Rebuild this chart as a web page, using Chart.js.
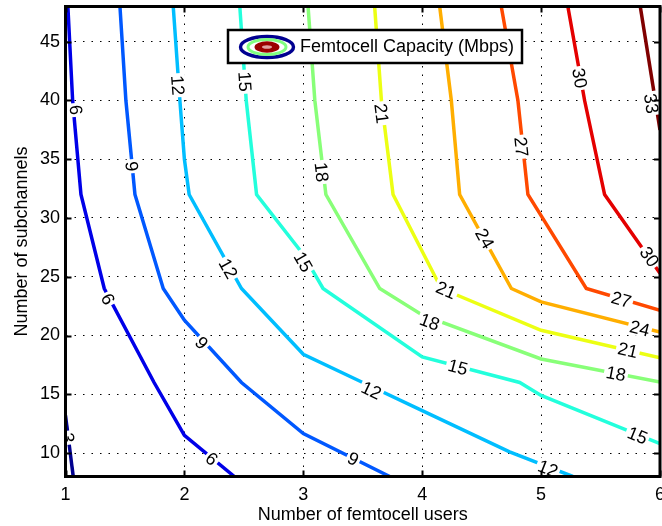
<!DOCTYPE html>
<html><head><meta charset="utf-8">
<script src="https://cdn.jsdelivr.net/npm/chart.js@4/dist/chart.umd.min.js"></script>
<style>html,body{margin:0;padding:0;background:#fff;overflow:hidden}</style>
</head><body>
<canvas id="c" width="662" height="526" style="display:block;width:662px;height:526px"></canvas>
<script>
// ---- data ----
const xTicks = [1, 2, 3, 4, 5, 6];
const yTicks = [10, 15, 20, 25, 30, 35, 40, 45];
const levels = [3, 6, 9, 12, 15, 18, 21, 24, 27, 30, 33];

// contour polylines: [femtocell users, subchannels]
const c03 = [[1.0, 13.2], [1.065, 8]];
const c06 = [[1.02, 48], [1.06, 40], [1.13, 32], [1.326, 24], [1.745, 16], [2.0, 11.5], [2.42, 8]];
const c09 = [[1.458, 48], [1.508, 40], [1.584, 32], [1.822, 24], [2.0, 21.3], [2.48, 16], [3.0, 11.65], [3.727, 8]];
const c12 = [[1.906, 48], [1.962, 40], [2.0, 35], [2.04, 32], [2.48, 24], [3.0, 18.4], [3.5, 16], [4.0, 13.6], [4.735, 10.1], [5.267, 8]];
const c15 = [[2.466, 48], [2.52, 40], [2.607, 32], [3.0, 26.9], [3.166, 24], [4.0, 18.17], [4.82, 16], [5.0, 14.9], [6.0, 10.8]];
const c18 = [[3.04, 48], [3.097, 40], [3.19, 32], [3.643, 24], [4.0, 21.75], [5.0, 18.0], [6.0, 16.04]];
const c21 = [[3.60, 48], [3.657, 40], [3.755, 32], [4.16, 24], [5.0, 20.44], [6.0, 18.1]];
const c24 = [[4.147, 48], [4.245, 40], [4.315, 32], [4.75, 24], [5.0, 22.86], [6.0, 20.3]];
const c27 = [[4.665, 48], [4.805, 40], [4.889, 32], [5.0, 30.2], [5.38, 24], [6.0, 22.15]];
const c30 = [[5.225, 48], [5.366, 40], [5.534, 32], [6.0, 25.3]];
const c33 = [[5.834, 48], [6.0, 37.5]];

// inline label anchor points
const lab03 = [[1.02, 11.3]];
const lab06 = [[1.088, 39.2], [1.357, 23.1], [2.23, 9.5]];
const lab09 = [[1.556, 34.4], [2.145, 19.36], [3.42, 9.5]];
const lab12 = [[1.943, 41.3], [2.368, 25.7], [3.573, 15.33], [5.057, 8.67]];
const lab15 = [[2.508, 41.6], [2.998, 26.26], [4.30, 17.3], [5.81, 11.5]];
const lab18 = [[3.153, 33.9], [4.063, 21.15], [5.63, 16.75]];
const lab21 = [[3.657, 38.9], [4.2, 23.86], [5.73, 18.74]];
const lab24 = [[4.525, 28.25], [5.83, 20.6]];
const lab27 = [[4.833, 36.06], [5.674, 23.06]];
const lab30 = [[5.324, 41.9], [5.91, 26.7]];
const lab33 = [[5.926, 39.75]];

const series = [c03, c06, c09, c12, c15, c18, c21, c24, c27, c30, c33];
const labelSets = [lab03, lab06, lab09, lab12, lab15, lab18, lab21, lab24, lab27, lab30, lab33];
const legendText = 'Femtocell Capacity (Mbps)';

// ---- styles ----
const jetColors = ['#00008F', '#0000E8', '#0058FF', '#00BEFF', '#23FFDC', '#88FF78', '#ECFF13', '#FFAE00', '#FF4900', '#E40000', '#800000'];
const FONT = '"Liberation Sans", Arial, Helvetica, sans-serif';

const contourLabels = {
  id: 'contourLabels',
  afterDatasetsDraw(chart) {
    const {ctx, chartArea: a, scales: {x, y}} = chart;
    ctx.save();
    ctx.beginPath(); ctx.rect(a.left, a.top, a.right - a.left, a.bottom - a.top); ctx.clip();
    ctx.font = '18px ' + FONT;
    ctx.textAlign = 'center'; ctx.textBaseline = 'middle';
    levels.forEach((lv, i) => {
      const pts = series[i].map(p => [x.getPixelForValue(p[0]), y.getPixelForValue(p[1])]);
      labelSets[i].forEach(l => {
        const px = x.getPixelForValue(l[0]), py = y.getPixelForValue(l[1]);
        let best = Infinity, ang = 0;
        for (let k = 0; k < pts.length - 1; k++) {
          const [x1, y1] = pts[k], [x2, y2] = pts[k + 1];
          const dx = x2 - x1, dy = y2 - y1, L = dx * dx + dy * dy;
          let t = ((px - x1) * dx + (py - y1) * dy) / L; t = Math.max(0, Math.min(1, t));
          const d = Math.hypot(px - (x1 + t * dx), py - (y1 + t * dy));
          if (d < best) { best = d; ang = Math.atan2(dy, dx); }
        }
        if (ang > Math.PI / 2) ang -= Math.PI;
        if (ang <= -Math.PI / 2) ang += Math.PI;
        const txt = String(lv);
        const w = ctx.measureText(txt).width;
        ctx.save(); ctx.translate(px, py); ctx.rotate(ang);
        ctx.fillStyle = '#fff'; ctx.fillRect(-w / 2 - 2, -8, w + 4, 16);
        ctx.fillStyle = '#000'; ctx.fillText(txt, 0, 1);
        ctx.restore();
      });
    });
    ctx.restore();

    // frame and inward ticks (MATLAB box style)
    const {left, right, top, bottom} = a;
    ctx.save();
    ctx.strokeStyle = '#000';
    ctx.lineWidth = 2;
    const tl = 6;
    ctx.beginPath();
    xTicks.forEach(v => {
      const px = Math.round(x.getPixelForValue(v)) + 0.5;
      ctx.moveTo(px, bottom); ctx.lineTo(px, bottom - tl);
      ctx.moveTo(px, top); ctx.lineTo(px, top + tl);
    });
    yTicks.forEach(v => {
      const py = Math.round(y.getPixelForValue(v)) + 0.5;
      ctx.moveTo(left, py); ctx.lineTo(left + tl, py);
      ctx.moveTo(right, py); ctx.lineTo(right - tl, py);
    });
    ctx.stroke();
    ctx.lineWidth = 3;
    ctx.strokeRect(left, top, right - left, bottom - top);
    ctx.restore();
  },
  afterDraw(chart) {
    const ctx = chart.ctx;
    ctx.save();
    // legend box
    const bx = 228, by = 30, bw = 294, bh = 33;
    ctx.fillStyle = '#fff';
    ctx.fillRect(bx, by, bw, bh);
    ctx.lineWidth = 2.5; ctx.strokeStyle = '#000';
    ctx.strokeRect(bx, by, bw, bh);
    // icon
    const cx = 267, cy = 47;
    ctx.lineWidth = 3.4; ctx.strokeStyle = '#000090';
    ctx.beginPath(); ctx.ellipse(cx, cy, 26.5, 10.5, 0, 0, Math.PI * 2); ctx.stroke();
    ctx.lineWidth = 3; ctx.strokeStyle = '#80FF80';
    ctx.beginPath(); ctx.ellipse(cx, cy, 19, 7.5, 0, 0, Math.PI * 2); ctx.stroke();
    ctx.fillStyle = '#9A0000';
    ctx.beginPath(); ctx.ellipse(cx, cy, 12.5, 5.8, 0, 0, Math.PI * 2); ctx.fill();
    ctx.fillStyle = '#E0A0A0';
    ctx.beginPath(); ctx.ellipse(cx, cy, 5, 1.8, 0, 0, Math.PI * 2); ctx.fill();
    ctx.fillStyle = '#000';
    ctx.font = '18px ' + FONT;
    ctx.textAlign = 'left'; ctx.textBaseline = 'middle';
    ctx.fillText(legendText, 300, 47.5);
    ctx.restore();
  }
};

const datasets = levels.map((lv, i) => ({
  label: String(lv),
  data: series[i].map(p => ({x: p[0], y: p[1]})),
  borderColor: jetColors[i],
  backgroundColor: jetColors[i],
  borderWidth: 3.5,
  pointRadius: 0,
  fill: false,
  tension: 0
}));

new Chart(document.getElementById('c'), {
  type: 'line',
  data: {datasets},
  plugins: [contourLabels],
  options: {
    responsive: false,
    animation: false,
    devicePixelRatio: 1,
    layout: {padding: {left: 0, right: 2, top: 6.5, bottom: 0}},
    plugins: {legend: {display: false}, tooltip: {enabled: false}},
    scales: {
      x: {
        type: 'linear', min: 1, max: 6,
        afterBuildTicks(s) { s.ticks = xTicks.map(v => ({value: v})); },
        afterFit(s) { s.height = 49.5; s.paddingLeft = 0; s.paddingRight = 0; },
        ticks: {color: '#000', font: {family: FONT, size: 18}, padding: 8, maxRotation: 0, autoSkip: false},
        grid: {color: '#000', lineWidth: 1, drawTicks: false},
        border: {display: false, dash: [1.5, 7]},
        title: {display: true, text: 'Number of femtocell users', color: '#000', font: {family: FONT, size: 18}, padding: {top: 0, bottom: 0}}
      },
      y: {
        type: 'linear', min: 8, max: 48,
        afterBuildTicks(s) { s.ticks = yTicks.map(v => ({value: v})); },
        afterFit(s) { s.width = 65.5; s.paddingTop = 0; s.paddingBottom = 0; },
        ticks: {color: '#000', font: {family: FONT, size: 18}, padding: 5.5, autoSkip: false},
        grid: {color: '#000', lineWidth: 1, drawTicks: false},
        border: {display: false, dash: [1.5, 7]},
        title: {display: true, text: 'Number of subchannels', color: '#000', font: {family: FONT, size: 18}, padding: {top: 11, bottom: 11}}
      }
    }
  }
});
</script>
</body></html>
